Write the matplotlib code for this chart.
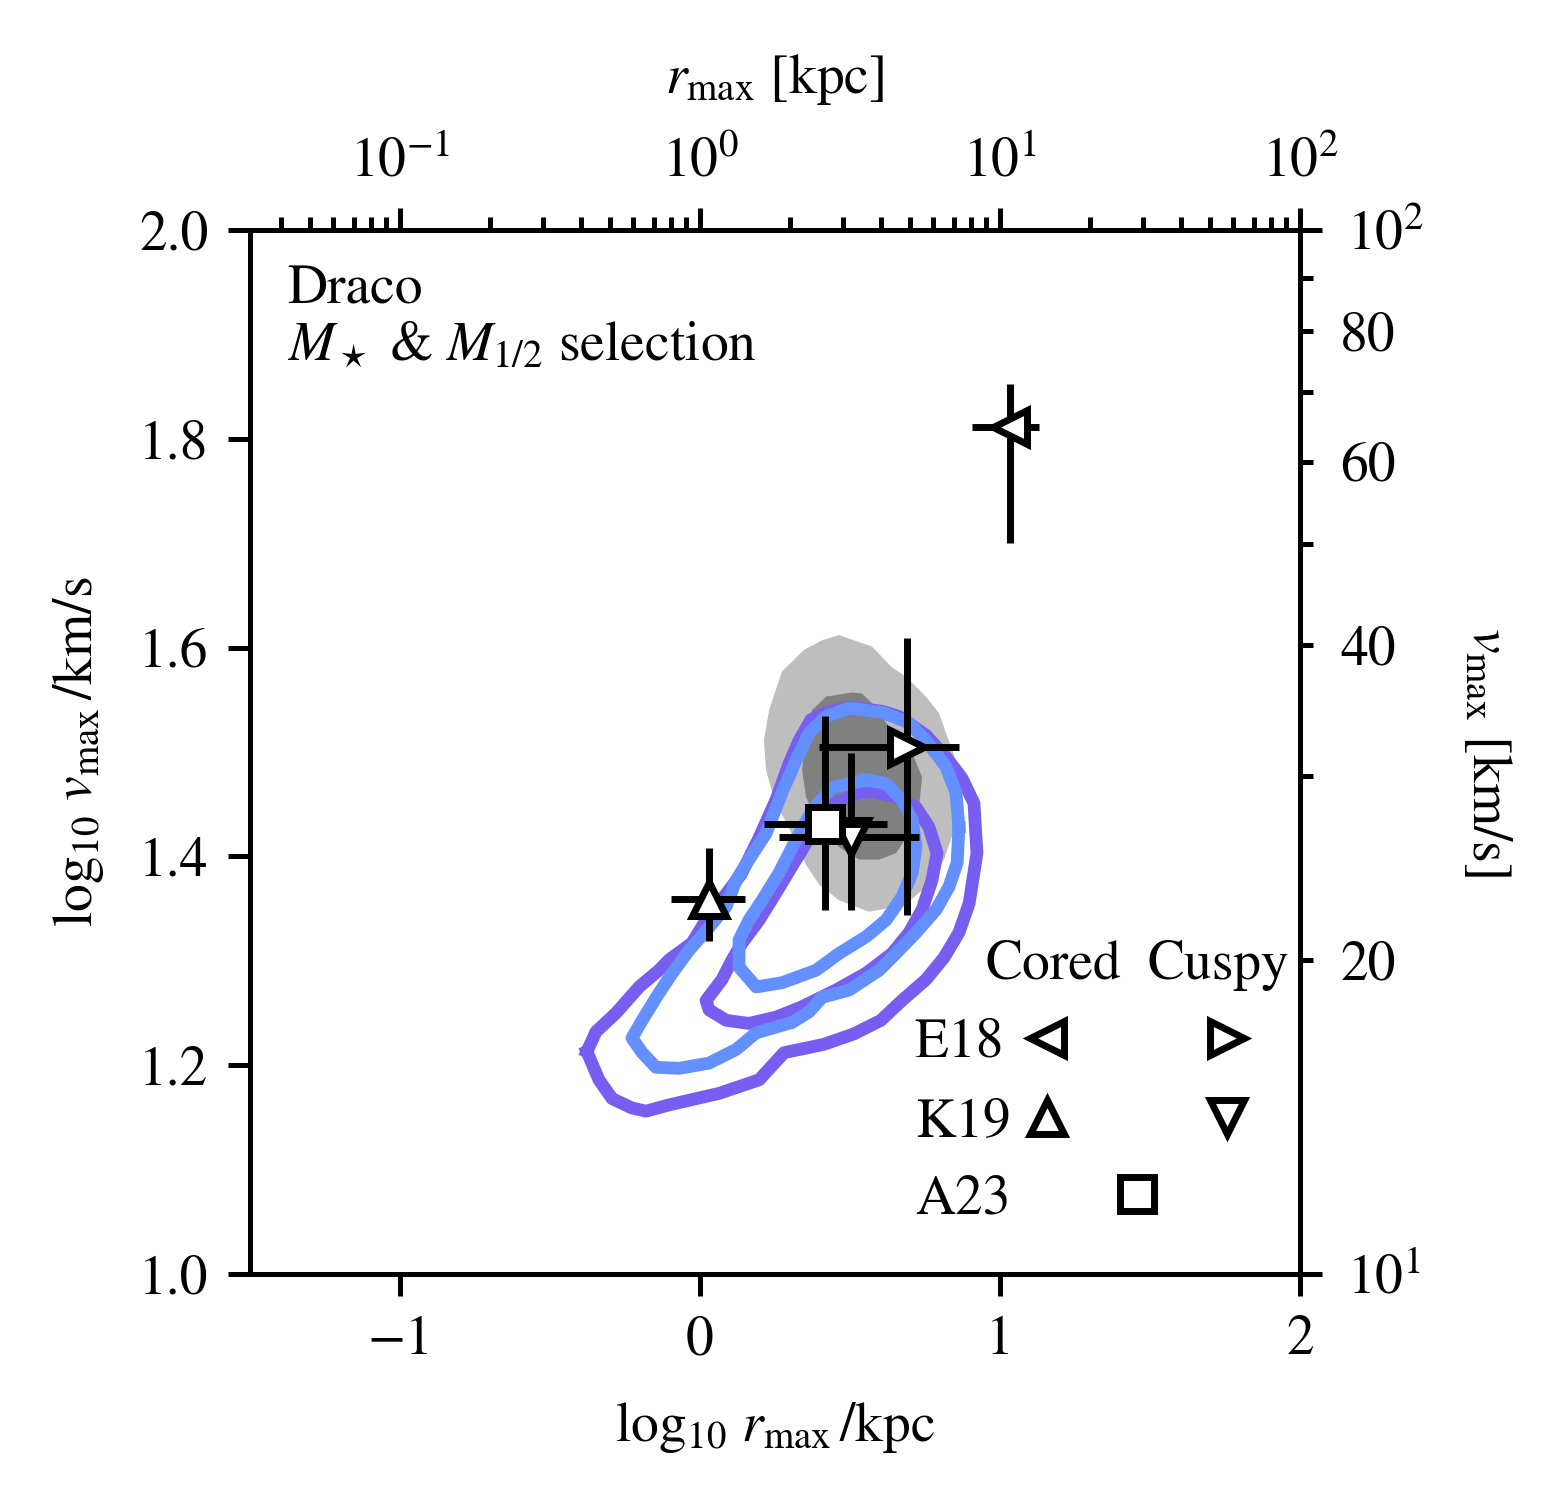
import numpy as np
import matplotlib
matplotlib.use('Agg')
import matplotlib.pyplot as plt
from matplotlib.ticker import FuncFormatter, NullFormatter

plt.rcParams['font.family'] = 'STIXGeneral'
plt.rcParams['mathtext.fontset'] = 'stix'
plt.rcParams['font.size'] = 10
plt.rcParams['axes.linewidth'] = 0.9
plt.rcParams['xtick.major.width'] = 0.9
plt.rcParams['ytick.major.width'] = 0.9
plt.rcParams['xtick.minor.width'] = 0.9
plt.rcParams['ytick.minor.width'] = 0.9
plt.rcParams['xtick.major.size'] = 4
plt.rcParams['ytick.major.size'] = 4
plt.rcParams['xtick.minor.size'] = 2.4
plt.rcParams['ytick.minor.size'] = 2.4

# literature estimates for Draco (log10 rmax/kpc, log10 vmax/km/s)
ref_names = ['E18', 'E18', 'K19', 'K19', 'A23']
ref_markers = ['<', '>', '^', 'v', 's']
lrmax = [1.033, 0.690, 0.030, 0.503, 0.417]
lrmax_lo = [0.906, 0.397, -0.097, 0.263, 0.213]
lrmax_hi = [1.130, 0.863, 0.150, 0.730, 0.623]
lvmax = [1.811, 1.505, 1.359, 1.419, 1.431]
lvmax_lo = [1.700, 1.344, 1.319, 1.349, 1.349]
lvmax_hi = [1.852, 1.609, 1.408, 1.499, 1.534]

# simulated haloes, filled grey regions (outer, inner)
grey_outer_x = [0.463, 0.573, 0.640, 0.687, 0.753, 0.797, 0.820, 0.847, 0.857, 0.847, 0.813, 0.763,
                0.680, 0.563, 0.463, 0.397, 0.353, 0.297, 0.247, 0.220, 0.213, 0.230, 0.273, 0.347, 0.407]
grey_outer_y = [1.612, 1.601, 1.581, 1.572, 1.553, 1.537, 1.518, 1.497, 1.464, 1.425, 1.397, 1.373,
                1.353, 1.347, 1.358, 1.373, 1.392, 1.427, 1.454, 1.483, 1.511, 1.540, 1.577, 1.598, 1.607]
grey_inner_x = [0.507, 0.420, 0.373, 0.353, 0.340, 0.353, 0.387, 0.463, 0.530, 0.597, 0.653, 0.697,
                0.730, 0.740, 0.707, 0.630, 0.573, 0.540]
grey_inner_y = [1.557, 1.553, 1.540, 1.514, 1.483, 1.457, 1.435, 1.409, 1.397, 1.397, 1.403, 1.422,
                1.447, 1.476, 1.499, 1.524, 1.547, 1.556]

# purple contours (outer, inner)
purple_outer_x = [-0.377, -0.337, -0.293, -0.227, -0.180, -0.103, 0.063, 0.197, 0.280, 0.413, 0.513,
                  0.603, 0.673, 0.753, 0.813, 0.863, 0.897, 0.923, 0.913, 0.873, 0.823, 0.753, 0.663,
                  0.607, 0.497, 0.423, 0.370, 0.330, 0.297, 0.253, 0.197, 0.137, 0.087, 0.020, -0.027,
                  -0.103, -0.137, -0.203, -0.280, -0.347]
purple_outer_y = [1.213, 1.186, 1.168, 1.159, 1.156, 1.162, 1.173, 1.186, 1.212, 1.220, 1.230,
                  1.243, 1.262, 1.282, 1.303, 1.327, 1.355, 1.403, 1.451, 1.475, 1.494, 1.516, 1.534,
                  1.539, 1.543, 1.538, 1.531, 1.511, 1.489, 1.454, 1.418, 1.383, 1.364, 1.339, 1.317,
                  1.301, 1.291, 1.275, 1.250, 1.232]
purple_inner_x = [0.530, 0.440, 0.373, 0.320, 0.253, 0.197, 0.140, 0.107, 0.073, 0.020, 0.030, 0.087,
                  0.163, 0.253, 0.340, 0.453, 0.553, 0.640, 0.697, 0.740, 0.773, 0.790, 0.763, 0.720,
                  0.653, 0.573]
purple_inner_y = [1.461, 1.449, 1.422, 1.397, 1.365, 1.339, 1.317, 1.301, 1.282, 1.262, 1.253, 1.243,
                  1.240, 1.246, 1.256, 1.272, 1.288, 1.307, 1.327, 1.349, 1.377, 1.403, 1.428, 1.447,
                  1.457, 1.462]

# blue contours (outer, inner)
blue_outer_x = [0.863, 0.857, 0.830, 0.787, 0.720, 0.653, 0.597, 0.497, 0.407, 0.363, 0.307, 0.187,
                0.120, 0.030, -0.070, -0.147, -0.193, -0.227, -0.193, -0.137, -0.093, -0.037, 0.030,
                0.087, 0.120, 0.163, 0.220, 0.273, 0.320, 0.363, 0.420, 0.497, 0.607, 0.697, 0.753,
                0.820, 0.853]
blue_outer_y = [1.428, 1.394, 1.371, 1.349, 1.327, 1.307, 1.291, 1.272, 1.265, 1.251, 1.241, 1.231,
                1.215, 1.202, 1.197, 1.198, 1.212, 1.226, 1.243, 1.269, 1.288, 1.310, 1.332,
                1.352, 1.377, 1.397, 1.422, 1.461, 1.492, 1.518, 1.534, 1.542, 1.538, 1.528, 1.511,
                1.486, 1.461]
blue_inner_x = [0.553, 0.440, 0.373, 0.320, 0.263, 0.207, 0.163, 0.130, 0.130, 0.187, 0.273, 0.387,
                0.463, 0.553, 0.620, 0.673, 0.707, 0.720, 0.707, 0.673, 0.620]
blue_inner_y = [1.473, 1.466, 1.444, 1.416, 1.384, 1.358, 1.339, 1.320, 1.294, 1.275, 1.279, 1.291,
                1.307, 1.323, 1.339, 1.361, 1.384, 1.409, 1.435, 1.454, 1.470]

grey_light = '#bebebe'
grey_dark = '#808080'
purple = '#785EF0'
blue = '#648FFF'


def closed(xs, ys):
    return list(xs) + [xs[0]], list(ys) + [ys[0]]


fig = plt.figure(figsize=(3.89, 3.7675), dpi=400)
ax = fig.add_axes([0.1607, 0.1546, 0.6748, 0.6928])

ax.fill(*closed(grey_outer_x, grey_outer_y), color=grey_light, lw=0, zorder=1)
ax.fill(*closed(grey_inner_x, grey_inner_y), color=grey_dark, lw=0, zorder=1.1)
for xs, ys, c in [(purple_outer_x, purple_outer_y, purple),
                  (purple_inner_x, purple_inner_y, purple),
                  (blue_outer_x, blue_outer_y, blue),
                  (blue_inner_x, blue_inner_y, blue)]:
    cx, cy = closed(xs, ys)
    ax.plot(cx, cy, color=c, lw=2.3, solid_joinstyle='round', zorder=2)

for i in range(len(lrmax)):
    xerr = [[lrmax[i] - lrmax_lo[i]], [lrmax_hi[i] - lrmax[i]]]
    yerr = [[lvmax[i] - lvmax_lo[i]], [lvmax_hi[i] - lvmax[i]]]
    ax.errorbar([lrmax[i]], [lvmax[i]], xerr=xerr, yerr=yerr, fmt=ref_markers[i],
                color='k', mfc='w', mec='k', ms=6, mew=1.25, elinewidth=1.25,
                capsize=0, zorder=3 + i * 0.1)

ax.set_xlim(-1.5, 2)
ax.set_ylim(1.0, 2.0)
ax.set_xticks([-1, 0, 1, 2])
ax.set_yticks([1.0, 1.2, 1.4, 1.6, 1.8, 2.0])
ax.set_xlabel(r'$\log_{10}\, r_{\rm max}\, / {\rm kpc}$', labelpad=6)
ax.set_ylabel(r'$\log_{10}\, v_{\rm max}\, / {\rm km/s}$', labelpad=6)

ax_t = ax.twiny()
ax_t.set_xscale('log')
ax_t.set_xlim(10 ** -1.5, 10 ** 2)
ax_t.xaxis.set_minor_formatter(NullFormatter())
ax_t.set_xlabel(r'$r_{\rm max}$ [kpc]', labelpad=8)

ax_r = ax.twinx()
ax_r.set_yscale('log')
ax_r.set_ylim(10, 100)
ax_r.yaxis.set_minor_formatter(FuncFormatter(
    lambda v, p: '%d' % round(v) if round(v) in (20, 40, 60, 80) else ''))
ax_r.tick_params(axis='y', which='major', pad=4.5)
ax_r.tick_params(axis='y', which='minor', pad=4.8)
ax_r.set_ylabel(r'$v_{\rm max}$ [km/s]', rotation=270, labelpad=16)

ax.text(0.035, 0.930, 'Draco', transform=ax.transAxes, va='baseline')
ax.text(0.035, 0.8755, r'$M_\star$ & $M_{1/2}$ selection', transform=ax.transAxes, va='baseline')

# key for the literature estimates
ax.text(0.700, 0.2826, 'Cored', transform=ax.transAxes, va='baseline')
ax.text(0.855, 0.2826, 'Cuspy', transform=ax.transAxes, va='baseline')
key_rows = ['E18', 'K19', 'A23']
key_text_y = [0.2079, 0.1322, 0.0584]
key_mark_y = [0.226, 0.150, 0.0766]
key_marks = [('<', '>'), ('^', 'v'), ('s', None)]
for lab, ty, my, (m1, m2) in zip(key_rows, key_text_y, key_mark_y, key_marks):
    ax.text(0.633, ty, lab, transform=ax.transAxes, va='baseline')
    if m2 is None:
        ax.plot([0.845], [my], m1, transform=ax.transAxes, mfc='w', mec='k', ms=6, mew=1.25)
    else:
        ax.plot([0.759], [my], m1, transform=ax.transAxes, mfc='w', mec='k', ms=6, mew=1.25)
        ax.plot([0.930], [my], m2, transform=ax.transAxes, mfc='w', mec='k', ms=6, mew=1.25)

fig.savefig('out.png', dpi=400)
